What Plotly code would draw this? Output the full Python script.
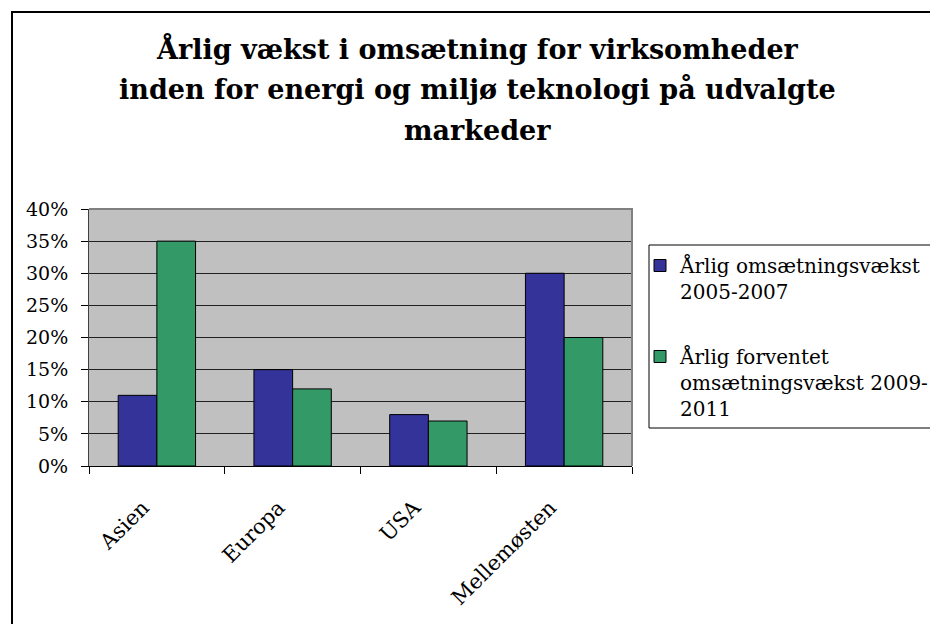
import plotly.graph_objects as go

categories = ["Asien", "Europa", "USA", "Mellemøsten"]
series1_name = "Årlig omsætningsvækst<br>2005-2007"
series1_values = [0.11, 0.15, 0.08, 0.30]
series2_name = "Årlig forventet<br>omsætningsvækst 2009-<br>2011"
series2_values = [0.35, 0.12, 0.07, 0.20]
title_lines = [
    "Årlig vækst i omsætning for virksomheder",
    "inden for energi og miljø teknologi på udvalgte",
    "markeder",
]

FONT = "DejaVu Serif"
OFF = 8  # page body margin
W, H = 930, 616
# plot area in page pixel coordinates
PX0, PX1, PY0, PY1 = 89, 632, 209, 466
L = PX0 - OFF
T = PY0 - OFF
R = W - (PX1 - OFF)
B = H - (PY1 - OFF)
PW, PH = PX1 - PX0, PY1 - PY0

def px_x(x):
    return (x - PX0) / PW

def px_y(y):
    return (PY1 - y) / PH

fig = go.Figure()
fig.add_trace(go.Bar(
    x=categories, y=series1_values, name=series1_name,
    marker=dict(color="#333399", line=dict(color="black", width=1)),
    legendgroup="a",
))
fig.add_trace(go.Bar(
    x=categories, y=series2_values, name=series2_name,
    marker=dict(color="#339966", line=dict(color="black", width=1)),
    legendgroup="b",
))

annotations = []
for line, ypx in zip(title_lines, [48, 89, 130]):
    annotations.append(dict(
        text="<b>" + line + "</b>", x=px_x(477), y=px_y(ypx),
        xref="paper", yref="paper", xanchor="center", yanchor="middle",
        showarrow=False, font=dict(family=FONT, size=27, color="black"),
    ))

fig.update_layout(
    width=W, height=H,
    margin=dict(l=L, r=R, t=T, b=B, autoexpand=False),
    paper_bgcolor="white",
    plot_bgcolor="#C0C0C0",
    barmode="group", bargap=0.43, bargroupgap=0,
    font=dict(family=FONT, size=19, color="black"),
    annotations=annotations,
    showlegend=True,
    legend=dict(
        x=px_x(640), y=px_y(246), xanchor="left", yanchor="top",
        borderwidth=0, bgcolor="rgba(0,0,0,0)",
        font=dict(family=FONT, size=20, color="black"),
        valign="top", tracegroupgap=36, traceorder="grouped",
        itemclick=False,
    ),
    xaxis=dict(
        tickson="boundaries", ticks="outside", ticklen=7, tickcolor="black",
        showline=True, linecolor="black", linewidth=1,
        tickangle=-45, ticklabelstandoff=20, ticklabelshift=-14,
        tickfont=dict(family=FONT, size=21, color="black"),
        showgrid=False,
    ),
    yaxis=dict(
        range=[0, 0.4], dtick=0.05, tickformat=".0%",
        ticks="outside", ticklen=7, tickcolor="black",
        showline=True, linecolor="#404040", linewidth=1,
        showgrid=True, gridcolor="#202020", gridwidth=1,
        zeroline=False, ticklabelstandoff=9,
        tickfont=dict(family=FONT, size=19, color="black"),
    ),
    shapes=[
        dict(type="path", xref="paper", yref="paper",
             path="M 0,1 L 1,1 L 1,0",
             line=dict(color="#808080", width=2), layer="above"),
        dict(type="rect", xref="paper", yref="paper",
             x0=px_x(649), x1=px_x(1200), y0=px_y(245), y1=px_y(428),
             line=dict(color="black", width=1), layer="above"),
        dict(type="rect", xref="paper", yref="paper",
             x0=px_x(12), x1=px_x(1200), y0=px_y(12), y1=px_y(900),
             line=dict(color="black", width=2), layer="above"),
    ],
)

fig.write_html("out.html")
